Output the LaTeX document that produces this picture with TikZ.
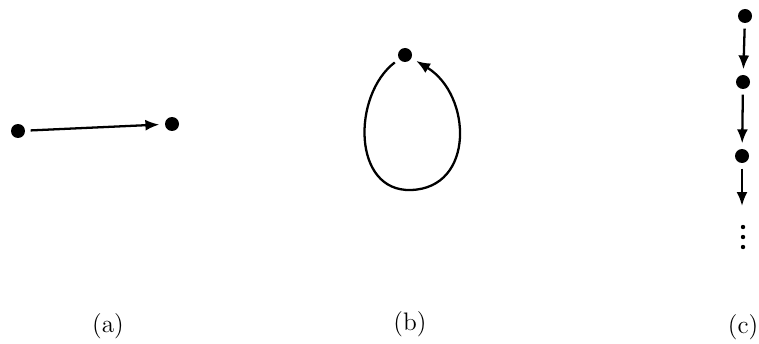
\documentclass[tikz,border=0pt]{standalone}
\usepackage{tikz}
\usetikzlibrary{arrows.meta,positioning,calc}
\tikzset{
  vertex/.style={circle, fill=black, inner sep=0pt, minimum size=0.28cm},
  arc/.style={line width=1.3pt, -{Latex[length=2.8mm,width=2.2mm]},
              shorten <=3pt, shorten >=3pt},
  caption/.style={font=\Large}
}
\begin{document}
\begin{tikzpicture}[x=0.02cm, y=-0.02cm]
\useasboundingbox (0,0) rectangle (759,344);
% ---- (a): one edge between two vertices ----
\node[vertex] (a1) at (18,131) {};
\node[vertex] (a2) at (172,124) {};
\draw[arc] (a1) -- (a2);
\node[caption] (la) at (108,326) {(a)};
% ---- (b): a loop on one vertex ----
\node[vertex] (b1) at (405,55) {};
\draw[arc] (b1.-145) .. controls (352,95) and (352,192) .. (411,190)
  .. controls (475,188) and (472,95) .. (b1.-25);
\node[caption] (lb) at (410,324) {(b)};
% ---- (c): an infinite chain ----
\node[vertex] (c1) at (745,16) {};
\node[vertex] (c2) at (743,82) {};
\node[vertex] (c3) at (742,156) {};
\coordinate (c4) at (742,206);
\draw[arc] (c1) -- (c2);
\draw[arc] (c2) -- (c3);
\draw[arc, shorten >=0pt] (c3) -- (c4);
\foreach \y in {227,237,247}
  \fill (743,\y) circle (2.2);
\node[caption] (lc) at (743,327) {(c)};
\end{tikzpicture}
\end{document}
